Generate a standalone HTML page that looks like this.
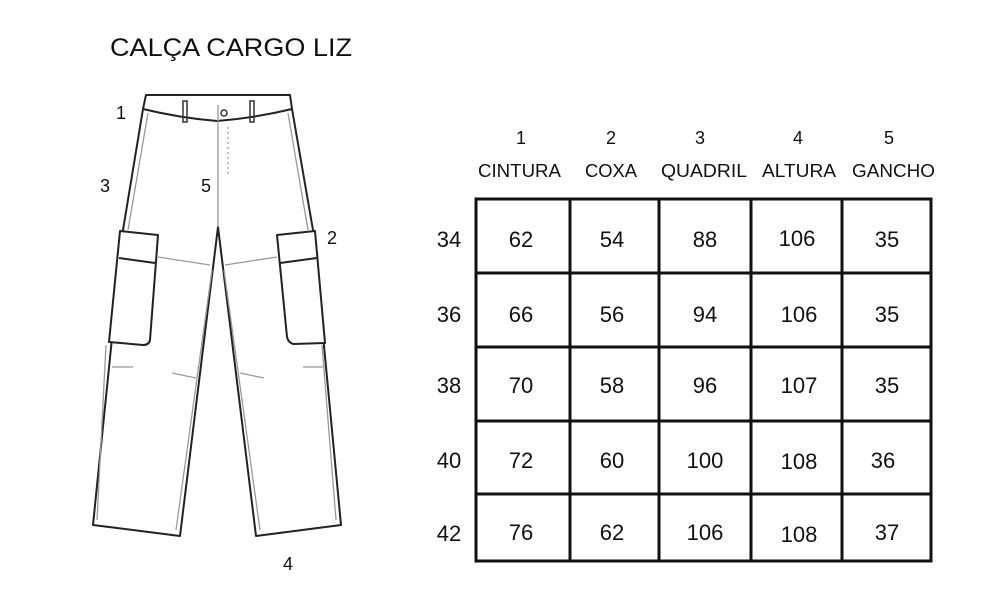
<!DOCTYPE html>
<html><head><meta charset="utf-8"><style>
html,body{margin:0;padding:0;background:#fff;}
svg{display:block;}
text{font-family:"Liberation Sans",sans-serif;fill:#111;}
</style></head><body>
<svg width="1000" height="591" viewBox="0 0 1000 591" xmlns="http://www.w3.org/2000/svg">
<rect width="1000" height="591" fill="#fff"/>
<text x="110" y="56" font-size="25" textLength="242" lengthAdjust="spacingAndGlyphs">CALÇA CARGO LIZ</text>

<!-- pants -->
<g fill="none" stroke="#222" stroke-width="2" stroke-linejoin="round">
<path d="M146,95 L290,95 L292,109 Q255,118 217,121 Q180,118 143,109 Z" fill="#fff"/>
<path d="M143,109 L123,230 L93,525 L180,536 L218,227 L256,536 L341,525 L313,230 L292,109"/>
<path d="M120,231 L158,235 L150,340 Q149,345 143,345 L109,342 Z" fill="#fff"/>
<path d="M119,258 L155,263"/>
<path d="M277,235 L315,231 L325,343 L293,344 Q288,342 287,337 Z" fill="#fff"/>
<path d="M280,263 L317,258"/>
</g>
<g fill="none" stroke="#999" stroke-width="1.3">
<path d="M218,105 L218,227"/>
<path d="M158,257 L210,265"/>
<path d="M225,265 L277,257"/>
<path d="M148,113 L128,230 M106,345 L97,520"/>
<path d="M288,113 L308,230 M322,345 L336,520"/>
<path d="M112,367 L133,367 M172,373 L196,378 M240,373 L264,378 M303,367 L323,367"/>
<path d="M212,270 L176,530 M224,270 L260,530"/>
<path d="M228,127 L228,175" stroke-dasharray="2,3"/>
</g>
<g fill="none" stroke="#333" stroke-width="1.5">
<rect x="183" y="101" width="4" height="21"/>
<rect x="250" y="101" width="4" height="21"/>
<circle cx="224" cy="113" r="3"/>
</g>
<g font-size="18">
<text x="116" y="119">1</text>
<text x="100" y="192">3</text>
<text x="201" y="192">5</text>
<text x="327" y="244">2</text>
<text x="283" y="570">4</text>
</g>

<!-- headers -->
<g font-size="18" text-anchor="middle">
<text x="521" y="144">1</text><text x="611" y="144">2</text><text x="700" y="144">3</text><text x="798" y="144">4</text><text x="889" y="144">5</text>
</g>
<g font-size="18">
<text x="478" y="177" textLength="83" lengthAdjust="spacingAndGlyphs">CINTURA</text>
<text x="585" y="177" textLength="52" lengthAdjust="spacingAndGlyphs">COXA</text>
<text x="661" y="177" textLength="86" lengthAdjust="spacingAndGlyphs">QUADRIL</text>
<text x="762" y="177" textLength="74" lengthAdjust="spacingAndGlyphs">ALTURA</text>
<text x="852" y="177" textLength="83" lengthAdjust="spacingAndGlyphs">GANCHO</text>
</g>

<!-- table -->
<g stroke="#111" stroke-width="3" fill="none">
<rect x="476" y="199" width="455" height="362"/>
<path d="M570,199V561 M659,199V561 M751,199V561 M842,199V561"/>
<path d="M476,273H931 M476,347H931 M476,421H931 M476,494H931"/>
</g>
<g font-size="22" text-anchor="middle">
<text x="449" y="247">34</text><text x="449" y="322">36</text><text x="449" y="393">38</text><text x="449" y="468">40</text><text x="449" y="541">42</text>
<text x="521" y="247">62</text><text x="612" y="247">54</text><text x="705" y="247">88</text><text x="797" y="246">106</text><text x="887" y="247">35</text>
<text x="521" y="322">66</text><text x="612" y="322">56</text><text x="705" y="322">94</text><text x="799" y="322">106</text><text x="887" y="322">35</text>
<text x="521" y="393">70</text><text x="612" y="393">58</text><text x="705" y="393">96</text><text x="799" y="393">107</text><text x="887" y="393">35</text>
<text x="521" y="468">72</text><text x="612" y="468">60</text><text x="705" y="468">100</text><text x="799" y="469">108</text><text x="883" y="468">36</text>
<text x="521" y="540">76</text><text x="612" y="540">62</text><text x="705" y="540">106</text><text x="799" y="542">108</text><text x="887" y="540">37</text>
</g>
</svg>
</body></html>
